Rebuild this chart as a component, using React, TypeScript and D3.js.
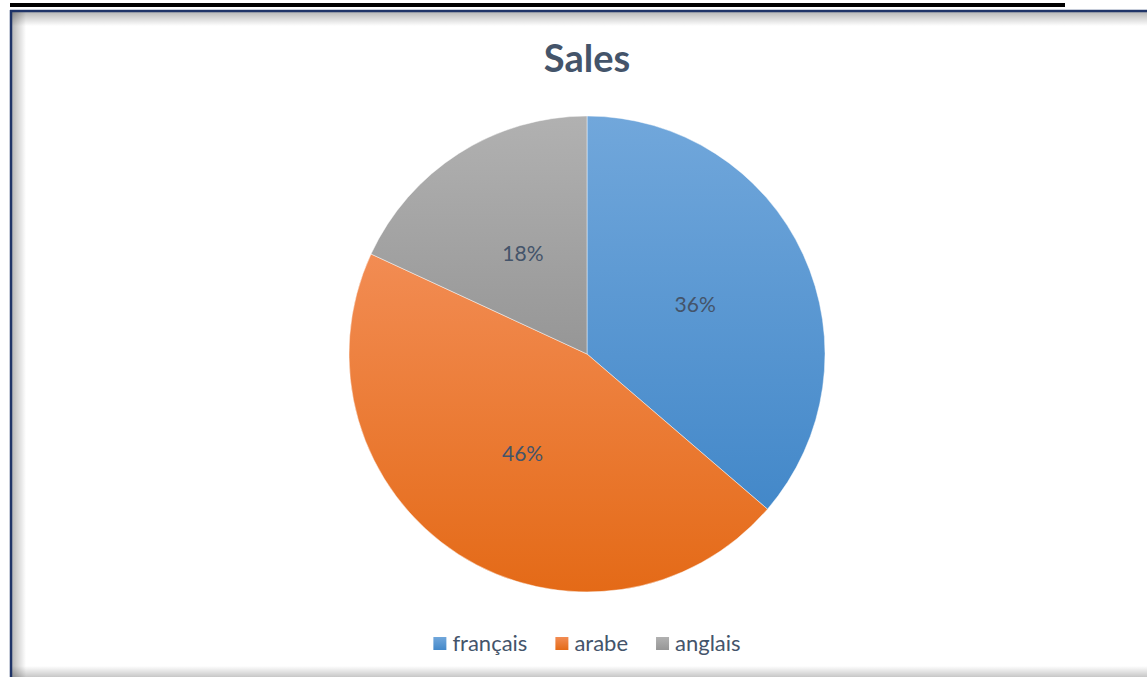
import React, { useEffect, useRef } from 'react';
import * as d3 from 'd3';

// chart data
const categories = ['français', 'arabe', 'anglais'];
const values = [36.3, 45.6, 18.1];
const title = 'Sales';
// gradient stops per slice (top, bottom)
const sliceColors = [
  ['#71A7DB', '#4388C9'],
  ['#F28C53', '#E46A17'],
  ['#B1B1B1', '#969696'],
];

const W = 1147;
const H = 677;

const App = () => {
  const svgRef = useRef<SVGSVGElement>(null);

  useEffect(() => {
    const svg = d3.select(svgRef.current);
    svg.selectAll('*').remove();

    const defs = svg.append('defs');

    // underline left over from the document text above the chart
    svg.append('rect').attr('x', 10).attr('y', 3).attr('width', 1055).attr('height', 4).attr('fill', '#000');

    // chart frame
    svg.append('rect').attr('x', 10).attr('y', 10).attr('width', W).attr('height', H).attr('fill', '#fff');

    const shade = (id, x1, y1, x2, y2, a) => {
      const g = defs.append('linearGradient').attr('id', id)
        .attr('x1', x1).attr('y1', y1).attr('x2', x2).attr('y2', y2);
      g.append('stop').attr('offset', '0%').attr('stop-color', '#000').attr('stop-opacity', a);
      g.append('stop').attr('offset', '100%').attr('stop-color', '#000').attr('stop-opacity', 0);
    };
    shade('shTop', 0, 0, 0, 1, 0.28);
    shade('shLeft', 0, 0, 1, 0, 0.28);
    shade('shBot', 0, 1, 0, 0, 0.22);

    svg.append('rect').attr('x', 12).attr('y', 12).attr('width', W).attr('height', 14).attr('fill', 'url(#shTop)');
    svg.append('rect').attr('x', 12).attr('y', 12).attr('width', 14).attr('height', H).attr('fill', 'url(#shLeft)');
    svg.append('rect').attr('x', 12).attr('y', H - 11).attr('width', W).attr('height', 11).attr('fill', 'url(#shBot)');

    svg.append('line').attr('x1', 10).attr('x2', W).attr('y1', 11).attr('y2', 11)
      .attr('stroke', '#1F3468').attr('stroke-width', 2.5);
    svg.append('line').attr('x1', 11).attr('x2', 11).attr('y1', 10).attr('y2', H)
      .attr('stroke', '#1F3468').attr('stroke-width', 2.5);

    // title
    svg.append('text')
      .attr('x', 587).attr('y', 72)
      .attr('text-anchor', 'middle')
      .attr('font-family', 'Lato, sans-serif')
      .attr('font-weight', 'bold')
      .attr('font-size', 38)
      .attr('fill', '#44546A')
      .text(title);

    // slice gradients, lighter at the top
    sliceColors.forEach(([top, bottom], i) => {
      const g = defs.append('linearGradient').attr('id', `slice${i}`)
        .attr('x1', 0).attr('y1', 0).attr('x2', 0).attr('y2', 1);
      g.append('stop').attr('offset', '0%').attr('stop-color', top);
      g.append('stop').attr('offset', '100%').attr('stop-color', bottom);
    });

    const cx = 587, cy = 354, r = 238;
    const total = d3.sum(values);
    const pie = d3.pie<number>().sort(null).value((d) => d);
    const arcs = pie(values);
    const arcGen = d3.arc<d3.PieArcDatum<number>>().innerRadius(0).outerRadius(r);

    const g = svg.append('g').attr('transform', `translate(${cx},${cy})`);

    g.selectAll('path.slice')
      .data(arcs)
      .join('path')
      .attr('class', 'slice')
      .attr('d', arcGen)
      .attr('fill', (d, i) => `url(#slice${i})`)
      .attr('stroke', '#fff')
      .attr('stroke-opacity', 0.6)
      .attr('stroke-width', 0.75);

    g.selectAll('text.lbl')
      .data(arcs)
      .join('text')
      .attr('class', 'lbl')
      .attr('transform', (d) => `translate(${arcGen.centroid(d)})`)
      .attr('text-anchor', 'middle')
      .attr('dy', '0.35em')
      .attr('font-family', 'Lato, sans-serif')
      .attr('font-size', 21)
      .attr('fill', '#44546A')
      .text((d) => `${Math.round((d.value / total) * 100)}%`);

    // legend
    const legend = svg.append('g');
    const items = legend.selectAll('g.item')
      .data(categories)
      .join('g')
      .attr('class', 'item');
    items.append('rect')
      .attr('width', 13).attr('height', 13)
      .attr('y', 637)
      .attr('fill', (d, i) => `url(#slice${i})`);
    items.append('text')
      .attr('x', 19).attr('y', 651)
      .attr('font-family', 'Lato, sans-serif')
      .attr('font-size', 22)
      .attr('fill', '#44546A')
      .text((d) => d);

    const gap = 28;
    const widths = items.nodes().map((n) => 19 + (n.querySelector('text') as SVGTextElement).getComputedTextLength());
    const totalW = d3.sum(widths) + gap * (widths.length - 1);
    let x = 587 - totalW / 2;
    items.each(function (d, i) {
      d3.select(this).attr('transform', `translate(${x},0)`);
      x += widths[i] + gap;
    });
  }, []);

  return (
    <svg
      ref={svgRef}
      width={W}
      height={H}
      style={{ position: 'absolute', left: 0, top: 0, background: '#fff' }}
    />
  );
};

export default App;
